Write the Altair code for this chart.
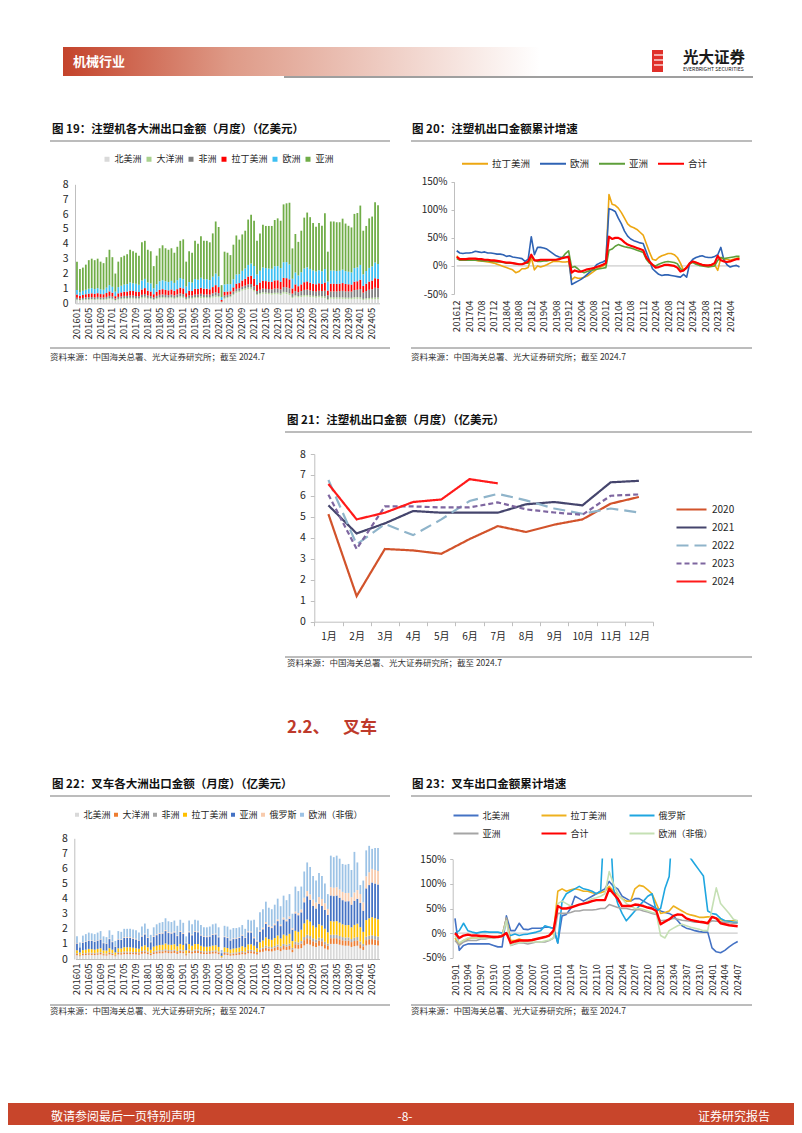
import altair as alt
import pandas as pd

W, H = 786, 1117
FONT = "Noto Sans CJK SC"
TXT = "#262626"
AX = "#BFBFBF"


def px(v):
    return round(v - 8, 2)


def py(v):
    return round(v - 8, 2)


months = [f"{y}{m:02d}" for y in range(2016, 2025) for m in range(1, 13)][:103]
labels19 = months[::4]
months20 = months[11:]
labels20 = months20[::4]
months23 = months[36:]
labels23 = months23[::3]
mon12 = [f"{i}月" for i in range(1, 13)]

# ---------------- Figure 19 : injection moulding machines, monthly by continent ----------------
ser19 = ["北美洲", "大洋洲", "非洲", "拉丁美洲", "欧洲", "亚洲"]
col19 = ["#D9D9D9", "#A9D18E", "#7F7F7F", "#FF0000", "#3DBFF2", "#70AD47"]
total19 = [
    2.8, 2.3, 2.4, 2.6, 2.9, 3.0, 2.9, 3.0, 2.8, 2.7, 3.1, 3.6,
    3.1, 2.0, 2.8, 3.1, 3.2, 3.3, 3.6, 3.5, 3.4, 3.2, 4.1, 4.2,
    3.6, 3.5, 2.5, 3.2, 3.7, 3.9, 3.7, 3.6, 3.7, 3.4, 3.8, 4.2,
    4.3, 2.8, 3.5, 3.4, 4.2, 4.0, 4.5, 4.2, 4.2, 4.1, 4.7, 5.5,
    5.13, 1.22, 3.47, 3.40, 3.24, 3.94, 4.56, 4.28, 4.63, 4.88, 5.63, 5.95,
    5.55, 4.21, 4.69, 5.28, 5.20, 5.20, 5.20, 5.60, 5.71, 5.55, 6.65, 6.72,
    6.76, 3.69, 4.66, 4.13, 4.88, 5.76, 6.10, 5.79, 5.40, 5.15, 5.40, 5.21,
    6.06, 3.47, 5.50, 5.50, 5.45, 5.45, 5.69, 5.36, 5.21, 5.10, 6.01, 6.07,
    6.57, 4.88, 5.20, 5.71, 5.83, 6.80, 6.60]
na19 = [
    0.20, 0.18, 0.20, 0.22, 0.22, 0.24, 0.22, 0.24, 0.22, 0.22, 0.24, 0.28,
    0.25, 0.18, 0.24, 0.26, 0.28, 0.28, 0.30, 0.30, 0.28, 0.28, 0.32, 0.36,
    0.30, 0.28, 0.22, 0.28, 0.32, 0.34, 0.32, 0.32, 0.34, 0.30, 0.34, 0.38,
    0.36, 0.24, 0.30, 0.30, 0.34, 0.34, 0.36, 0.34, 0.34, 0.32, 0.38, 0.42,
    0.40, 0.05, 0.30, 0.35, 0.40, 0.55, 0.70, 0.75, 0.85, 0.90, 0.95, 0.95,
    0.80, 0.55, 0.60, 0.65, 0.62, 0.60, 0.58, 0.60, 0.60, 0.55, 0.65, 0.62,
    0.55, 0.35, 0.45, 0.40, 0.42, 0.45, 0.45, 0.42, 0.40, 0.38, 0.40, 0.38,
    0.35, 0.22, 0.32, 0.30, 0.30, 0.30, 0.30, 0.28, 0.28, 0.27, 0.30, 0.30,
    0.30, 0.22, 0.25, 0.26, 0.27, 0.28, 0.28]
oc19 = [
    0.05, 0.04, 0.05, 0.05, 0.06, 0.05, 0.05, 0.06, 0.05, 0.05, 0.06, 0.07,
    0.06, 0.04, 0.06, 0.06, 0.07, 0.07, 0.07, 0.07, 0.06, 0.06, 0.08, 0.08,
    0.07, 0.06, 0.05, 0.07, 0.08, 0.08, 0.08, 0.07, 0.08, 0.07, 0.08, 0.09,
    0.08, 0.06, 0.07, 0.07, 0.08, 0.08, 0.09, 0.08, 0.08, 0.08, 0.09, 0.10,
    0.09, 0.03, 0.07, 0.07, 0.07, 0.08, 0.09, 0.09, 0.10, 0.10, 0.11, 0.11,
    0.10, 0.08, 0.09, 0.10, 0.10, 0.10, 0.10, 0.11, 0.11, 0.10, 0.12, 0.12,
    0.11, 0.08, 0.09, 0.09, 0.10, 0.11, 0.11, 0.11, 0.10, 0.10, 0.10, 0.10,
    0.10, 0.07, 0.10, 0.10, 0.10, 0.10, 0.10, 0.10, 0.10, 0.10, 0.11, 0.11,
    0.11, 0.08, 0.09, 0.10, 0.10, 0.11, 0.11]
af19 = [
    0.12, 0.10, 0.11, 0.12, 0.13, 0.13, 0.12, 0.13, 0.12, 0.12, 0.13, 0.15,
    0.14, 0.10, 0.13, 0.14, 0.15, 0.15, 0.16, 0.15, 0.15, 0.14, 0.17, 0.18,
    0.16, 0.15, 0.12, 0.15, 0.17, 0.18, 0.17, 0.16, 0.17, 0.16, 0.18, 0.20,
    0.18, 0.13, 0.16, 0.16, 0.18, 0.18, 0.19, 0.18, 0.18, 0.18, 0.20, 0.22,
    0.20, 0.04, 0.15, 0.15, 0.14, 0.16, 0.18, 0.17, 0.18, 0.19, 0.22, 0.24,
    0.25, 0.20, 0.22, 0.25, 0.25, 0.26, 0.26, 0.28, 0.28, 0.28, 0.32, 0.33,
    0.35, 0.22, 0.28, 0.26, 0.30, 0.34, 0.36, 0.34, 0.32, 0.32, 0.34, 0.34,
    0.40, 0.25, 0.38, 0.40, 0.40, 0.42, 0.44, 0.42, 0.42, 0.42, 0.48, 0.50,
    0.55, 0.42, 0.48, 0.55, 0.58, 0.65, 0.62]
la19 = [
    0.22, 0.18, 0.20, 0.22, 0.24, 0.25, 0.24, 0.25, 0.23, 0.22, 0.26, 0.30,
    0.26, 0.16, 0.24, 0.27, 0.28, 0.29, 0.32, 0.30, 0.30, 0.28, 0.36, 0.40,
    0.32, 0.30, 0.22, 0.28, 0.33, 0.35, 0.33, 0.32, 0.34, 0.30, 0.35, 0.38,
    0.38, 0.25, 0.32, 0.30, 0.38, 0.36, 0.40, 0.38, 0.38, 0.36, 0.42, 0.48,
    0.40, 0.10, 0.25, 0.22, 0.20, 0.28, 0.35, 0.35, 0.40, 0.45, 0.52, 0.55,
    0.50, 0.40, 0.48, 0.52, 0.52, 0.50, 0.50, 0.55, 0.56, 0.52, 0.62, 0.62,
    0.60, 0.35, 0.45, 0.40, 0.45, 0.52, 0.55, 0.52, 0.50, 0.48, 0.50, 0.48,
    0.55, 0.32, 0.52, 0.52, 0.50, 0.50, 0.52, 0.50, 0.48, 0.47, 0.56, 0.57,
    0.62, 0.45, 0.50, 0.55, 0.58, 0.65, 0.62]
eu19 = [
    0.30, 0.25, 0.28, 0.30, 0.33, 0.35, 0.33, 0.34, 0.32, 0.30, 0.36, 0.42,
    0.40, 0.30, 0.42, 0.45, 0.48, 0.50, 0.55, 0.53, 0.52, 0.48, 0.60, 0.62,
    0.55, 0.55, 0.40, 0.50, 0.58, 0.60, 0.58, 0.56, 0.58, 0.54, 0.60, 0.65,
    0.62, 0.45, 0.58, 0.56, 0.65, 0.62, 0.68, 0.64, 0.64, 0.62, 0.70, 0.78,
    0.72, 0.20, 0.50, 0.50, 0.48, 0.55, 0.62, 0.60, 0.65, 0.70, 0.78, 0.82,
    0.85, 0.70, 0.80, 0.88, 0.88, 0.88, 0.88, 0.95, 0.95, 0.92, 1.05, 1.08,
    1.00, 0.65, 0.80, 0.72, 0.82, 0.92, 0.95, 0.92, 0.88, 0.85, 0.88, 0.85,
    0.90, 0.60, 0.88, 0.88, 0.87, 0.87, 0.90, 0.86, 0.84, 0.82, 0.92, 0.93,
    1.00, 0.78, 0.85, 0.92, 0.95, 1.05, 1.02]
# Asia is the top segment: bar top (total) minus the segments read below it
as19 = [round(t - a - b - c - d - e, 2) for t, a, b, c, d, e in zip(total19, na19, oc19, af19, la19, eu19)]

# ---------------- Figure 20 : cumulative growth of injection machine exports (%) ----------------
ser20 = ["拉丁美洲", "欧洲", "亚洲", "合计"]
col20 = ["#EDA712", "#2F63B4", "#5E9F3A", "#FF0000"]
wid20 = [1.6, 1.6, 1.6, 2.2]
la20 = [18,
        12, 11, 11, 11, 10, 10, 9, 9, 8, 7, 6, 5,
        3, 1, -1, -3, -5, -7, -12, -10, -5, -5, -3, 15,
        -7, 0, -2, 0, 2, 5, 8, 8, 8, 7, 7, 8,
        -25, -20, -22, -22, -20, -18, -14, -10, -6, -3, 0, 3,
        127, 110, 108, 103, 95, 85, 75, 70, 68, 65, 60, 55,
        40, 25, 12, 10, 15, 18, 20, 22, 22, 20, 15, 5,
        -8, -3, 3, 8, 6, 4, 2, 1, 0, 0, 2, -8,
        15, 12, 12, 10, 12, 13, 15]
eu20 = [27,
        23, 22, 23, 23, 24, 26, 25, 24, 25, 23, 23, 22,
        21, 21, 20, 17, 18, 16, 15, 14, 13, 8, 12, 52,
        20, 33, 33, 32, 30, 26, 22, 18, 16, 15, 16, 17,
        -33, -30, -27, -24, -20, -15, -10, -5, 2, 5, 7, 10,
        102, 100, 97, 85, 75, 62, 53, 48, 45, 43, 41, 40,
        25, 10, -5, -10, -15, -17, -16, -16, -17, -18, -19, -20,
        -15, -20, 5, 12, 15, 17, 18, 16, 15, 15, 17, 20,
        33, 10, 2, -2, 0, 1, -2]
as20 = [13,
        10, 10, 10, 10, 10, 10, 10, 9, 9, 9, 8, 8,
        7, 7, 6, 5, 5, 5, 4, 3, 3, 5, 5, 18,
        10, 8, 8, 9, 9, 10, 10, 11, 12, 15, 22, 27,
        -3, -1, -5, -10, -12, -10, -8, -7, -6, -5, -4, -3,
        28, 30, 35, 38, 36, 34, 33, 32, 30, 28, 26, 24,
        12, 5, 2, 0, 3, 5, 7, 8, 7, 6, 4, -5,
        -8, -3, 5, 6, 3, 1, 0, -1, -2, -1, 0, 10,
        15, 13, 14, 15, 16, 17, 17]
tot20 = [16,
         12, 12, 12, 13, 13, 13, 12, 12, 11, 11, 10, 10,
         9, 8, 7, 6, 6, 5, 4, 3, 3, 5, 8, 20,
         10, 10, 11, 11, 11, 11, 11, 11, 12, 14, 15, 16,
         -12, -8, -10, -10, -8, -6, -5, -4, -2, 0, 2, 5,
         52, 48, 50, 50, 47, 42, 38, 36, 34, 32, 30, 28,
         15, 8, 2, -3, -2, 0, 2, 2, 1, 0, -3, -10,
         -8, -3, 5, 8, 6, 4, 2, 1, 1, 2, 5, 18,
         10, 8, 7, 8, 10, 12, 12]

# ---------------- Figure 21 : monthly exports by year ----------------
yrs21 = ["2020", "2021", "2022", "2023", "2024"]
col21 = ["#D2532B", "#45456D", "#8FB4CA", "#7E66A0", "#FF1A1A"]
dash21 = [[1, 0], [1, 0], [12, 6], [5, 3], [1, 0]]
v2020 = [5.13, 1.22, 3.47, 3.40, 3.24, 3.94, 4.56, 4.28, 4.63, 4.88, 5.63, 5.95]
v2021 = [5.55, 4.21, 4.69, 5.28, 5.20, 5.20, 5.20, 5.60, 5.71, 5.55, 6.65, 6.72]
v2022 = [6.76, 3.69, 4.66, 4.13, 4.88, 5.76, 6.10, 5.79, 5.40, 5.15, 5.40, 5.21]
v2023 = [6.06, 3.47, 5.50, 5.50, 5.45, 5.45, 5.69, 5.36, 5.21, 5.10, 6.01, 6.07]
v2024 = [6.57, 4.88, 5.20, 5.71, 5.83, 6.80, 6.60]

# ---------------- Figure 22 : forklifts, monthly by continent ----------------
ser22 = ["北美洲", "大洋洲", "非洲", "拉丁美洲", "亚洲", "俄罗斯", "欧洲（非俄）"]
col22 = ["#D9D9D9", "#ED7D31", "#A5A5A5", "#FFC000", "#4472C4", "#F8CBAD", "#9DC3E6"]
total22 = [
    1.50, 1.10, 1.55, 1.65, 1.75, 1.70, 1.65, 1.75, 1.85, 1.50, 1.45, 1.90,
    1.60, 1.20, 1.85, 1.80, 2.00, 2.00, 2.00, 1.95, 1.90, 1.75, 2.15, 2.35,
    2.00, 1.60, 2.10, 2.30, 2.40, 2.45, 2.70, 2.50, 2.45, 2.55, 2.20, 2.60,
    2.40, 1.50, 2.55, 2.30, 2.60, 2.55, 2.25, 2.10, 2.10, 2.15, 2.30, 2.35,
    2.10, 0.60, 2.20, 2.15, 1.95, 2.05, 2.05, 2.10, 2.25, 2.00, 2.60, 2.55,
    2.60, 2.10, 3.10, 3.30, 3.80, 3.40, 3.30, 3.60, 4.00, 3.50, 4.20, 3.90,
    4.30, 3.00, 4.80, 4.50, 4.80, 5.80, 6.40, 6.10, 5.50, 5.20, 5.70, 5.50,
    5.00, 4.30, 6.85, 6.75, 6.85, 6.65, 6.30, 6.25, 6.30, 5.90, 7.10, 6.40,
    4.90, 5.20, 7.20, 7.50, 7.30, 7.35, 7.35]
na22 = [
    0.25, 0.18, 0.25, 0.26, 0.28, 0.27, 0.26, 0.28, 0.30, 0.24, 0.23, 0.30,
    0.26, 0.18, 0.30, 0.29, 0.32, 0.32, 0.32, 0.31, 0.30, 0.28, 0.34, 0.37,
    0.32, 0.25, 0.33, 0.36, 0.38, 0.38, 0.42, 0.39, 0.38, 0.40, 0.34, 0.40,
    0.38, 0.24, 0.40, 0.36, 0.40, 0.40, 0.35, 0.33, 0.33, 0.34, 0.36, 0.37,
    0.32, 0.08, 0.28, 0.26, 0.22, 0.24, 0.26, 0.28, 0.32, 0.30, 0.38, 0.38,
    0.35, 0.30, 0.45, 0.48, 0.55, 0.52, 0.50, 0.55, 0.60, 0.52, 0.62, 0.60,
    0.62, 0.45, 0.70, 0.68, 0.72, 0.90, 1.00, 0.95, 0.85, 0.80, 0.88, 0.85,
    0.70, 0.62, 1.00, 1.00, 1.00, 0.95, 0.90, 0.88, 0.88, 0.80, 0.85, 0.88,
    0.70, 0.60, 0.90, 0.95, 0.95, 0.92, 0.90]
oc22 = [
    0.08, 0.06, 0.08, 0.09, 0.09, 0.09, 0.09, 0.09, 0.10, 0.08, 0.08, 0.10,
    0.09, 0.06, 0.10, 0.10, 0.11, 0.11, 0.11, 0.10, 0.10, 0.10, 0.12, 0.13,
    0.11, 0.09, 0.12, 0.12, 0.13, 0.13, 0.14, 0.13, 0.13, 0.14, 0.12, 0.14,
    0.13, 0.08, 0.14, 0.12, 0.14, 0.14, 0.12, 0.11, 0.11, 0.12, 0.12, 0.13,
    0.11, 0.03, 0.12, 0.12, 0.10, 0.11, 0.11, 0.12, 0.13, 0.11, 0.14, 0.14,
    0.15, 0.10, 0.16, 0.18, 0.20, 0.18, 0.18, 0.20, 0.22, 0.20, 0.24, 0.22,
    0.25, 0.18, 0.28, 0.26, 0.30, 0.35, 0.38, 0.36, 0.32, 0.30, 0.34, 0.32,
    0.28, 0.25, 0.38, 0.38, 0.38, 0.36, 0.34, 0.33, 0.34, 0.32, 0.34, 0.35,
    0.28, 0.24, 0.35, 0.36, 0.37, 0.36, 0.35]
af22 = [
    0.05, 0.04, 0.05, 0.05, 0.06, 0.06, 0.05, 0.06, 0.06, 0.05, 0.05, 0.06,
    0.05, 0.04, 0.06, 0.06, 0.07, 0.07, 0.07, 0.06, 0.06, 0.06, 0.07, 0.08,
    0.07, 0.05, 0.07, 0.08, 0.08, 0.08, 0.09, 0.08, 0.08, 0.08, 0.07, 0.09,
    0.08, 0.05, 0.09, 0.08, 0.09, 0.09, 0.08, 0.07, 0.07, 0.07, 0.08, 0.08,
    0.07, 0.02, 0.07, 0.07, 0.06, 0.07, 0.07, 0.07, 0.08, 0.07, 0.09, 0.09,
    0.08, 0.06, 0.10, 0.11, 0.13, 0.12, 0.11, 0.12, 0.14, 0.12, 0.14, 0.13,
    0.15, 0.11, 0.17, 0.16, 0.17, 0.21, 0.23, 0.22, 0.20, 0.19, 0.21, 0.20,
    0.17, 0.15, 0.23, 0.23, 0.23, 0.22, 0.21, 0.21, 0.21, 0.20, 0.22, 0.23,
    0.18, 0.16, 0.23, 0.24, 0.25, 0.24, 0.24]
la22 = [
    0.20, 0.15, 0.21, 0.22, 0.24, 0.23, 0.22, 0.24, 0.25, 0.20, 0.20, 0.26,
    0.22, 0.16, 0.25, 0.25, 0.28, 0.28, 0.28, 0.27, 0.26, 0.24, 0.30, 0.33,
    0.28, 0.22, 0.30, 0.32, 0.34, 0.35, 0.38, 0.35, 0.35, 0.36, 0.31, 0.37,
    0.34, 0.21, 0.36, 0.32, 0.37, 0.36, 0.32, 0.30, 0.30, 0.30, 0.33, 0.33,
    0.30, 0.08, 0.30, 0.28, 0.25, 0.27, 0.28, 0.29, 0.32, 0.29, 0.36, 0.36,
    0.30, 0.25, 0.40, 0.45, 0.55, 0.50, 0.48, 0.52, 0.60, 0.52, 0.62, 0.60,
    0.65, 0.45, 0.72, 0.70, 0.75, 0.90, 1.00, 0.95, 0.85, 0.80, 0.88, 0.85,
    0.85, 0.75, 0.90, 0.88, 0.90, 0.88, 0.85, 0.82, 0.82, 0.78, 0.85, 0.88,
    0.95, 0.80, 1.10, 1.15, 1.20, 1.18, 1.15]
as22 = [
    0.45, 0.35, 0.50, 0.52, 0.55, 0.55, 0.52, 0.55, 0.58, 0.48, 0.46, 0.60,
    0.50, 0.38, 0.58, 0.56, 0.62, 0.62, 0.62, 0.60, 0.58, 0.54, 0.66, 0.72,
    0.62, 0.50, 0.65, 0.70, 0.74, 0.75, 0.82, 0.77, 0.75, 0.78, 0.68, 0.80,
    0.74, 0.46, 0.78, 0.70, 0.80, 0.78, 0.68, 0.64, 0.64, 0.66, 0.70, 0.72,
    0.64, 0.18, 0.68, 0.66, 0.60, 0.63, 0.63, 0.64, 0.70, 0.62, 0.80, 0.78,
    0.50, 0.45, 0.70, 0.75, 0.90, 0.82, 0.78, 0.85, 0.95, 0.82, 1.00, 0.95,
    1.00, 0.75, 1.15, 1.10, 1.15, 1.40, 1.55, 1.45, 1.30, 1.25, 1.35, 1.30,
    1.25, 1.15, 1.70, 1.68, 1.70, 1.65, 1.60, 1.58, 1.58, 1.50, 1.60, 1.65,
    1.60, 1.40, 2.10, 2.20, 2.30, 2.30, 2.30]
ru22 = [
    0.03, 0.02, 0.03, 0.03, 0.03, 0.03, 0.03, 0.03, 0.04, 0.03, 0.03, 0.04,
    0.04, 0.03, 0.04, 0.04, 0.05, 0.05, 0.05, 0.05, 0.05, 0.04, 0.05, 0.06,
    0.05, 0.04, 0.05, 0.06, 0.06, 0.06, 0.07, 0.06, 0.06, 0.06, 0.05, 0.06,
    0.06, 0.04, 0.06, 0.05, 0.06, 0.06, 0.05, 0.05, 0.05, 0.05, 0.05, 0.06,
    0.05, 0.02, 0.05, 0.05, 0.05, 0.05, 0.05, 0.05, 0.06, 0.05, 0.07, 0.07,
    0.07, 0.06, 0.09, 0.10, 0.12, 0.11, 0.10, 0.11, 0.12, 0.11, 0.13, 0.12,
    0.15, 0.10, 0.12, 0.15, 0.20, 0.30, 0.35, 0.35, 0.40, 0.40, 0.45, 0.45,
    0.45, 0.40, 0.55, 0.55, 0.55, 0.55, 0.55, 0.55, 0.55, 0.50, 0.55, 0.58,
    0.60, 0.55, 0.80, 0.85, 0.90, 0.90, 0.90]
# Europe (ex-Russia) is the top segment: bar top minus the segments below it
eu22 = [round(t - a - b - c - d - e - f, 2)
        for t, a, b, c, d, e, f in zip(total22, na22, oc22, af22, la22, as22, ru22)]

# ---------------- Figure 23 : cumulative growth of forklift exports (%) ----------------
ser23 = ["北美洲", "拉丁美洲", "俄罗斯", "亚洲", "合计", "欧洲（非俄）"]
col23 = ["#4472C4", "#EEB11E", "#1FA6E0", "#A5A5A5", "#FF0000", "#C5E0B4"]
wid23 = [1.6, 1.6, 1.6, 1.6, 2.4, 1.6]
na23 = [30, -35, -25, -22, -22, -22, -22, -22, -22, -25, -28, -28,
        35, 5, 5, 20, 8, 7, 10, 10, 10, 12, 12, 10,
        -20, 35, 38, 50, 75, 70, 65, 70, 75, 80, 85, 90,
        105, 95, 90, 75, 70, 65, 70, 70, 65, 60, 55, 50,
        45, 42, 40, 35, 25, 15, 10, 8, 5, 3, 2, 2,
        -30, -38, -40, -35, -28, -22, -17]
la23 = [-10, -22, -15, -12, -10, -10, -8, -8, -8, -7, -7, -5,
        30, -15, -15, -12, -15, -15, -15, -12, -10, -8, -5, 0,
        85, 90, 85, 88, 90, 88, 85, 85, 82, 80, 82, 85,
        95, 85, 78, 70, 65, 65, 90, 97, 95, 88, 80, 60,
        40, 42, 45, 55, 50, 45, 40, 37, 35, 32, 32, 33,
        33, 30, 27, 25, 25, 25, 25]
ru23 = [0, 5, 20, 5, 2, 0, 2, 3, 2, 2, 2, 0,
        0, -5, -2, -5, -3, -2, 0, 2, 5, 15, 12, 10,
        -20, 65, 80, 85, 90, 95, 90, 88, 85, 80, 85, 250,
        250, 90, 60, 40, 25, 35, 45, 55, 65, 75, 80, 45,
        50, 90, 115, 250, 250, 250, 250, 152, 140, 128, 116, 45,
        40, 38, 30, 25, 24, 22, 22]
as23 = [-15, -25, -18, -15, -15, -15, -12, -12, -10, -10, -8, -5,
        30, -25, -22, -20, -20, -22, -20, -18, -18, -18, -15, -10,
        40, 40, 40, 42, 45, 45, 47, 47, 47, 48, 50, 50,
        58, 55, 52, 50, 50, 48, 47, 48, 45, 43, 40, 38,
        25, 26, 27, 30, 28, 26, 25, 24, 22, 22, 21, 20,
        25, 24, 23, 22, 21, 20, 20]
tot23 = [0, -10, -5, -3, -5, -5, -6, -6, -7, -8, -8, -6,
         0, -20, -17, -15, -15, -15, -14, -12, -10, -8, -5, 5,
         55, 50, 50, 52, 55, 58, 60, 62, 65, 67, 67, 67,
         90, 80, 70, 55, 55, 55, 58, 57, 55, 52, 50, 45,
         18, 23, 28, 35, 38, 37, 30, 27, 25, 23, 22, 20,
         33, 30, 20, 18, 16, 15, 14]
eu23 = [-5, -20, -15, -10, -10, -10, -10, -10, -10, -10, -8, -8,
        25, -25, -20, -20, -18, -18, -18, -18, -18, -16, -14, -10,
        60, 65, 60, 55, 55, 58, 60, 65, 70, 72, 75, 80,
        125, 100, 80, 70, 60, 55, 50, 50, 48, 45, 42, 40,
        -5, -10, 5, 10, 15, 18, 15, 12, 10, 8, 5, 5,
        50, 92, 60, 50, 40, 28, 25]

for arr in [total19, na19, oc19, af19, la19, eu19, total22, na22, oc22, af22, la22, as22, ru22]:
    assert len(arr) == 103, len(arr)
for arr in [la20, eu20, as20, tot20]:
    assert len(arr) == 92, len(arr)
for arr in [na23, la23, ru23, as23, tot23, eu23]:
    assert len(arr) == 67, len(arr)


# ---------------- helpers ----------------
def bar_panel(series, colors, values, x0, x1, ybot, ytop, yax, legend):
    rows = []
    for k, (s, vals) in enumerate(zip(series, values)):
        for m, v in zip(months, vals):
            rows.append({"m": m, "s": s, "v": v, "o": k})
    df = pd.DataFrame(rows)
    return alt.Chart(df).mark_bar().encode(
        x=alt.X("m:O", sort=months,
                scale=alt.Scale(domain=months, range=[px(x0), px(x1)], paddingInner=0.4, paddingOuter=0.2),
                axis=alt.Axis(orient="bottom", offset=py(ybot) - H, values=labels19, labelAngle=-90,
                              ticks=False, domainColor=AX, labelFontSize=9.5, labelPadding=4,
                              labelOverlap=False, title=None)),
        y=alt.Y("v:Q", stack="zero",
                scale=alt.Scale(domain=[0, 8], range=[py(ybot), py(ytop)], nice=False, zero=False),
                axis=alt.Axis(orient="left", offset=-px(yax), values=list(range(9)), ticks=False, grid=False,
                              domainColor=AX, labelFontSize=10.5, labelPadding=7, title=None)),
        color=alt.Color("s:N", scale=alt.Scale(domain=series, range=colors), legend=legend),
        order=alt.Order("o:Q", sort="ascending"),
    )


def line_panel(mlist, labels, series, colors, widths, values, draw_order, x0, x1, ybot, ytop, yax, legend):
    rows = []
    for s in draw_order:
        k = series.index(s)
        for i, (m, v) in enumerate(zip(mlist, values[k])):
            rows.append({"m": m, "s": s, "v": v, "i": i, "w": widths[k]})
    df = pd.DataFrame(rows)
    xenc = alt.X("m:O", sort=mlist,
                 scale=alt.Scale(type="point", domain=mlist, range=[px(x0), px(x1)], padding=0),
                 axis=alt.Axis(orient="bottom", offset=py(ybot) - H, values=labels, labelAngle=-90,
                               domain=False, ticks=False, labelFontSize=9.5, labelPadding=6,
                               labelOverlap=False, title=None))
    yenc = alt.Y("v:Q",
                 scale=alt.Scale(domain=[-50, 150], range=[py(ybot), py(ytop)], nice=False, zero=False),
                 axis=alt.Axis(orient="left", offset=-px(yax), values=[-50, 0, 50, 100, 150],
                               labelExpr="datum.value + '%'", grid=False, domainColor=AX, tickColor=AX,
                               tickSize=3, labelPadding=4, labelFontSize=10, title=None))
    zero = alt.Chart(pd.DataFrame({"m": [mlist[0]], "m2": [mlist[-1]], "v": [0]})).mark_rule(
        color=AX, strokeWidth=1).encode(x=xenc, x2=alt.X2("m2"), y=yenc)
    lines = alt.Chart(df).mark_line(strokeJoin="round").encode(
        x=xenc, y=yenc,
        color=alt.Color("s:N", scale=alt.Scale(domain=series, range=colors), legend=legend),
        size=alt.Size("w:Q", scale=None, legend=None),
        detail="s:N",
        order=alt.Order("i:Q"),
    )
    return alt.layer(zero, lines)


one = pd.DataFrame({"a": [1]})

# ---------------- panels ----------------
leg19 = alt.Legend(orient="none", legendX=px(102.5), legendY=py(154.5), direction="horizontal", title=None,
                   symbolType="square", symbolSize=25, symbolStrokeWidth=0, labelFontSize=9,
                   labelOffset=3, columnPadding=2)
bars19 = bar_panel(ser19, col19, [na19, oc19, af19, la19, eu19, as19], 75.5, 379.5, 303.3, 184.3, 75, leg19)

# legend line symbol: a horizontal segment longer than the nominal symbol box
leg20 = alt.Legend(orient="none", legendX=px(469), legendY=py(157.5), direction="horizontal", title=None,
                   symbolType="M-2.6,0H2.6", symbolSize=100, symbolStrokeWidth=2, labelFontSize=9.5,
                   labelOffset=11, columnPadding=5)
lines20 = line_panel(months20, labels20, ser20, col20, wid20, [la20, eu20, as20, tot20], ser20,
                     456.7, 739.5, 294, 181.7, 454, leg20)

rows21 = []
for yr, vals in zip(yrs21, [v2020, v2021, v2022, v2023, v2024]):
    for i, v in enumerate(vals):
        rows21.append({"mo": mon12[i], "yr": yr, "v": v, "i": i})
df21 = pd.DataFrame(rows21)
leg21 = alt.Legend(orient="none", legendX=px(685), legendY=py(503), direction="vertical", title=None,
                   symbolType="M-3,0H3", symbolSize=100, symbolStrokeWidth=2.2, labelFontSize=10,
                   labelOffset=14, rowPadding=6)
lines21 = alt.Chart(df21).mark_line(strokeWidth=2.2).encode(
    x=alt.X("mo:O", sort=mon12, bandPosition=0.5,
            scale=alt.Scale(type="band", domain=mon12, range=[px(314.3), px(653)], paddingInner=0, paddingOuter=0),
            axis=alt.Axis(orient="bottom", offset=py(621.7) - H, labelAngle=0, domainColor=AX, tickColor=AX,
                          tickSize=4, tickBand="extent", labelPadding=6, labelFontSize=10, title=None)),
    y=alt.Y("v:Q", scale=alt.Scale(domain=[0, 8], range=[py(621.7), py(454)], nice=False, zero=False),
            axis=alt.Axis(orient="left", offset=-px(314.3), values=list(range(9)), grid=False, domainColor=AX,
                          tickColor=AX, tickSize=4, labelPadding=5, labelFontSize=10.5, title=None)),
    color=alt.Color("yr:N", scale=alt.Scale(domain=yrs21, range=col21), legend=leg21),
    strokeDash=alt.StrokeDash("yr:N", scale=alt.Scale(domain=yrs21, range=dash21), legend=leg21),
    order=alt.Order("i:Q"),
)

leg22 = alt.Legend(orient="none", legendX=px(72.5), legendY=py(810), direction="horizontal", title=None,
                   symbolType="square", symbolSize=16, symbolStrokeWidth=0, labelFontSize=9,
                   labelOffset=2, columnPadding=-3)
bars22 = bar_panel(ser22, col22, [na22, oc22, af22, la22, as22, ru22, eu22], 75.5, 379.5, 959, 838.3, 74.3, leg22)

leg23 = alt.Legend(orient="none", legendX=px(460), legendY=py(809.5), direction="horizontal", columns=3,
                   gridAlign="all", title=None, symbolType="M-2.5,0H2.5", symbolSize=100, symbolStrokeWidth=2,
                   labelFontSize=9, labelOffset=10.5, columnPadding=0, rowPadding=7)
order23 = ["北美洲", "拉丁美洲", "俄罗斯", "亚洲", "欧洲（非俄）", "合计"]
lines23 = line_panel(months23, labels23, ser23, col23, wid23, [na23, la23, ru23, as23, tot23, eu23], order23,
                     455, 737.7, 957.7, 859.3, 452.7, leg23)

# white band that hides what leaves the top of figure 23 (as the source chart clips it)
mask23 = alt.Chart(one).mark_rect(color="white").encode(
    x=alt.value(px(452)), x2=alt.value(px(752)), y=alt.value(py(765)), y2=alt.value(py(858.6)))

# ---------------- page decorations ----------------
header = alt.Chart(one).mark_rect(fill=alt.LinearGradient(
    gradient="linear", x1=0, x2=1, y1=0, y2=0,
    stops=[alt.GradientStop(offset=0, color="#C4432B"),
           alt.GradientStop(offset=0.35, color="#DE9A87"),
           alt.GradientStop(offset=1, color="#FFFFFF")])).encode(
    x=alt.value(px(63)), x2=alt.value(px(540)), y=alt.value(py(47)), y2=alt.value(py(76)))

rects = pd.DataFrame([
    (652, 50, 663, 72, "#E0302A"),
    (0, 1103, 802, 1140, "#C8452B"),
], columns=["x", "y", "x2", "y2", "c"])
for c in ["x", "x2", "y", "y2"]:
    rects[c] = rects[c] - 8
rect_layer = alt.Chart(rects).mark_rect().encode(
    x=alt.X("x:Q", scale=None, axis=None), x2="x2:Q",
    y=alt.Y("y:Q", scale=None, axis=None), y2="y2:Q",
    color=alt.Color("c:N", scale=None, legend=None))

rules = pd.DataFrame([
    (284, 77, 753, 77, "#7F7F7F", 1.6),
    (654, 55, 663, 55, "#FFFFFF", 1.2),
    (654, 60, 663, 60, "#FFFFFF", 1.2),
    (654, 65, 663, 65, "#FFFFFF", 1.2),
    (50, 141, 390, 141, "#A6A6A6", 1.3),
    (411, 141, 752, 141, "#A6A6A6", 1.3),
    (50, 348, 390, 348, "#595959", 0.8),
    (411, 348, 752, 348, "#595959", 0.8),
    (285, 432, 752, 432, "#A6A6A6", 1.3),
    (285, 657, 752, 657, "#595959", 0.8),
    (50, 796, 390, 796, "#A6A6A6", 1.3),
    (411, 796, 752, 796, "#A6A6A6", 1.3),
    (50, 1005, 390, 1005, "#595959", 0.8),
    (411, 1005, 752, 1005, "#595959", 0.8),
], columns=["x", "y", "x2", "y2", "c", "w"])
for c in ["x", "x2", "y", "y2"]:
    rules[c] = rules[c] - 8
rule_layer = alt.Chart(rules).mark_rule().encode(
    x=alt.X("x:Q", scale=None, axis=None), x2="x2:Q",
    y=alt.Y("y:Q", scale=None, axis=None), y2="y2:Q",
    color=alt.Color("c:N", scale=None, legend=None),
    size=alt.Size("w:Q", scale=None, legend=None))

SRC = "资料来源：中国海关总署、光大证券研究所；截至 2024.7"
RED = "#BE3A2B"
bold_txt = pd.DataFrame([
    (73, 61.5, "机械行业", 13, "#FFFFFF"),
    (683, 57.5, "光大证券", 15.5, "#1A1A1A"),
    (52, 130, "图 19：注塑机各大洲出口金额（月度）（亿美元）", 11.5, "#111111"),
    (412, 130, "图 20：注塑机出口金额累计增速", 11.5, "#111111"),
    (287, 421, "图 21：注塑机出口金额（月度）（亿美元）", 11.5, "#111111"),
    (52, 785, "图 22：叉车各大洲出口金额（月度）（亿美元）", 11.5, "#111111"),
    (412, 785, "图 23：叉车出口金额累计增速", 11.5, "#111111"),
    (287, 728, "2.2、", 17, RED),
    (343, 728, "叉车", 17, RED),
], columns=["x", "y", "t", "s", "c"])
norm_txt = pd.DataFrame([
    (683, 68.5, "EVERBRIGHT SECURITIES", 5.2, "#1A1A1A"),
    (50, 357, SRC, 8.5, "#333333"),
    (411, 357, SRC, 8.5, "#333333"),
    (287, 663, SRC, 8.5, "#333333"),
    (50, 1011, SRC, 8.5, "#333333"),
    (411, 1011, SRC, 8.5, "#333333"),
    (51, 1117, "敬请参阅最后一页特别声明", 12, "#FFFFFF"),
    (698, 1117, "证券研究报告", 12, "#FFFFFF"),
], columns=["x", "y", "t", "s", "c"])
center_txt = pd.DataFrame([(405, 1117, "-8-", 12, "#FFFFFF")], columns=["x", "y", "t", "s", "c"])


def text_layer(df, weight, align):
    d = df.copy()
    d["x"] = d["x"] - 8
    d["y"] = d["y"] - 8
    return alt.Chart(d).mark_text(align=align, baseline="middle", font=FONT, fontWeight=weight).encode(
        x=alt.X("x:Q", scale=None, axis=None), y=alt.Y("y:Q", scale=None, axis=None),
        text="t:N", size=alt.Size("s:Q", scale=None, legend=None),
        color=alt.Color("c:N", scale=None, legend=None))


chart = alt.layer(
    bars19, lines20, lines21, bars22, lines23, mask23,
    header, rect_layer, rule_layer,
    text_layer(bold_txt, "bold", "left"),
    text_layer(norm_txt, "normal", "left"),
    text_layer(center_txt, "normal", "center"),
).resolve_scale(
    x="independent", y="independent", color="independent", size="independent", strokeDash="independent"
).properties(
    width=W, height=H, padding=0, autosize=alt.AutoSizeParams(type="none")
).configure_view(stroke=None).configure_axis(
    labelFont=FONT, labelColor=TXT
).configure_legend(labelFont=FONT, labelColor=TXT)

chart.save("out.html", embed_options={"renderer": "svg", "actions": False})
